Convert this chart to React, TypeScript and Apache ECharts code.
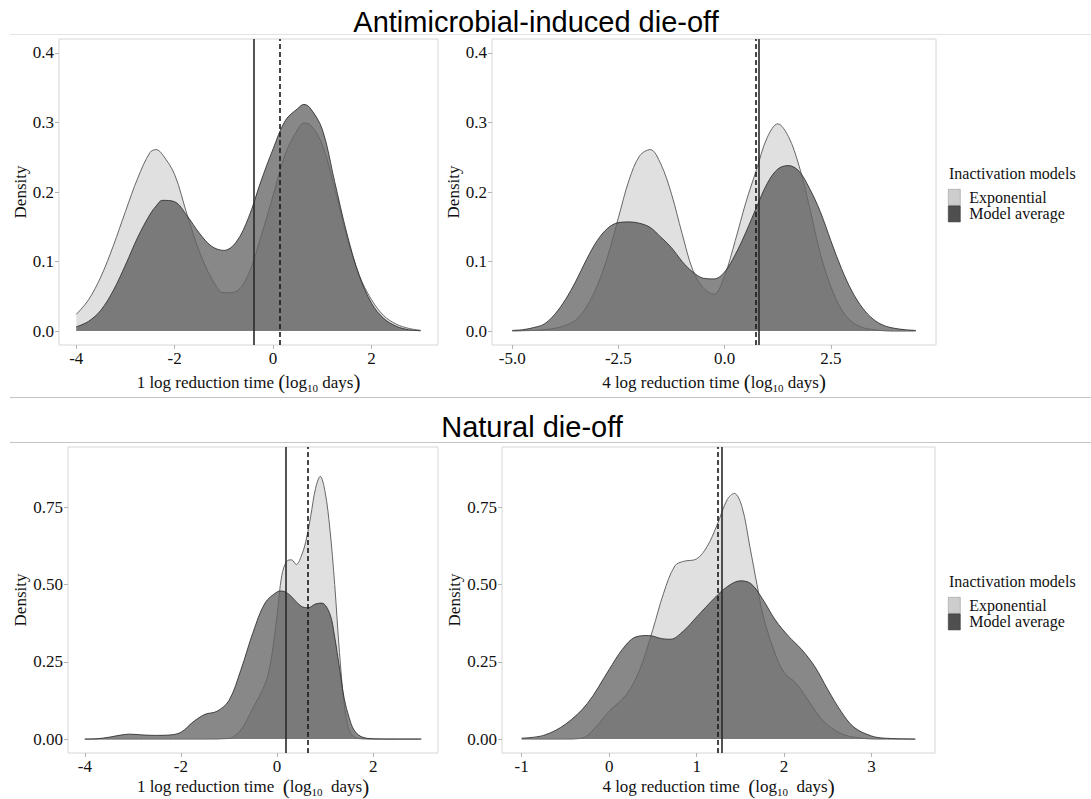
import React, { useEffect, useRef } from "react";
import * as echarts from "echarts";

// ---------- data ----------
const legendNames = ["Exponential", "Model average"];

// Top-left: 1 log reduction time, antimicrobial-induced
const tlX = [-4, -3.75, -3.5, -3.25, -3, -2.75, -2.5, -2.375, -2.25, -2, -1.75, -1.5, -1.25, -1, -0.75, -0.5, -0.25, 0, 0.25, 0.5, 0.625, 0.75, 1, 1.25, 1.5, 1.75, 2, 2.25, 2.5, 2.75, 3];
const tlExp = [0.024, 0.045, 0.078, 0.122, 0.172, 0.22, 0.257, 0.261, 0.254, 0.225, 0.168, 0.115, 0.076, 0.055, 0.057, 0.082, 0.135, 0.195, 0.255, 0.29, 0.299, 0.297, 0.268, 0.205, 0.135, 0.08, 0.045, 0.022, 0.01, 0.004, 0.001];
const tlAvg = [0.006, 0.014, 0.03, 0.058, 0.095, 0.135, 0.168, 0.18, 0.188, 0.186, 0.166, 0.141, 0.122, 0.116, 0.128, 0.163, 0.215, 0.262, 0.303, 0.32, 0.326, 0.321, 0.29, 0.215, 0.14, 0.08, 0.04, 0.018, 0.007, 0.002, 0.0005];

// Top-right: 4 log reduction time, antimicrobial-induced
const trX = [-5, -4.75, -4.5, -4.25, -4, -3.75, -3.5, -3.25, -3, -2.75, -2.5, -2.25, -2, -1.75, -1.5, -1.25, -1, -0.75, -0.5, -0.25, 0, 0.25, 0.5, 0.75, 1, 1.25, 1.5, 1.75, 2, 2.25, 2.5, 2.75, 3, 3.25, 3.5, 3.75, 4, 4.25, 4.5];
const trExp = [0, 0.0005, 0.001, 0.002, 0.004, 0.008, 0.016, 0.035, 0.065, 0.108, 0.163, 0.217, 0.252, 0.261, 0.24, 0.197, 0.14, 0.088, 0.062, 0.053, 0.08, 0.13, 0.185, 0.232, 0.278, 0.298, 0.28, 0.238, 0.178, 0.112, 0.064, 0.031, 0.013, 0.005, 0.002, 0.0005, 0, 0, 0];
const trAvg = [0.001, 0.002, 0.005, 0.01, 0.024, 0.045, 0.072, 0.103, 0.13, 0.148, 0.156, 0.157, 0.155, 0.149, 0.135, 0.12, 0.1, 0.085, 0.076, 0.075, 0.085, 0.11, 0.142, 0.178, 0.212, 0.233, 0.238, 0.23, 0.205, 0.172, 0.13, 0.09, 0.057, 0.033, 0.017, 0.008, 0.004, 0.002, 0.001];

// Bottom-left: 1 log reduction time, natural
const blExpX = [-4, -1.5, -1, -0.9, -0.75, -0.6, -0.45, -0.3, -0.2, -0.1, 0, 0.1, 0.2, 0.3, 0.4, 0.5, 0.6, 0.7, 0.8, 0.9, 1, 1.1, 1.2, 1.3, 1.4, 1.5, 1.6, 1.75, 2, 3];
const blExp = [0, 0, 0.002, 0.008, 0.03, 0.07, 0.115, 0.16, 0.2, 0.28, 0.4, 0.53, 0.575, 0.58, 0.565, 0.59, 0.64, 0.72, 0.81, 0.85, 0.8, 0.68, 0.5, 0.28, 0.11, 0.03, 0.008, 0.001, 0, 0];
const blAvgX = [-4, -3.75, -3.5, -3.25, -3.07, -2.75, -2.5, -2.25, -2, -1.75, -1.5, -1.25, -1, -0.75, -0.5, -0.25, 0, 0.1, 0.25, 0.5, 0.65, 0.8, 0.93, 1.1, 1.2, 1.3, 1.4, 1.5, 1.6, 1.75, 2, 2.5, 3];
const blAvg = [0, 0.001, 0.006, 0.013, 0.016, 0.013, 0.012, 0.013, 0.022, 0.055, 0.08, 0.09, 0.125, 0.225, 0.345, 0.44, 0.476, 0.479, 0.468, 0.43, 0.425, 0.437, 0.44, 0.405, 0.33, 0.23, 0.13, 0.07, 0.03, 0.008, 0.001, 0, 0];

// Bottom-right: 4 log reduction time, natural
const brExpX = [-1, -0.5, -0.3, -0.15, 0, 0.2, 0.35, 0.5, 0.62, 0.75, 0.85, 1, 1.12, 1.23, 1.35, 1.43, 1.52, 1.61, 1.69, 1.76, 1.88, 2, 2.14, 2.3, 2.45, 2.65, 2.85, 3.13, 3.5];
const brExp = [0, 0, 0.004, 0.04, 0.09, 0.145, 0.225, 0.355, 0.47, 0.56, 0.575, 0.583, 0.623, 0.69, 0.775, 0.795, 0.75, 0.62, 0.5, 0.4, 0.29, 0.215, 0.18, 0.115, 0.058, 0.018, 0.004, 0, 0];
const brAvgX = [-1, -0.75, -0.5, -0.25, 0, 0.15, 0.3, 0.45, 0.6, 0.7, 0.85, 1, 1.2, 1.35, 1.5, 1.62, 1.75, 1.9, 2.05, 2.2, 2.35, 2.5, 2.65, 2.8, 3, 3.15, 3.5];
const brAvg = [0.003, 0.012, 0.048, 0.115, 0.225, 0.29, 0.33, 0.335, 0.325, 0.323, 0.35, 0.395, 0.455, 0.493, 0.512, 0.503, 0.455, 0.385, 0.333, 0.29, 0.235, 0.16, 0.09, 0.038, 0.01, 0.003, 0];

// vertical reference lines per panel (TL, TR, BL, BR)
const solidLines = [-0.4, 0.81, 0.19, 1.29];
const dashedLines = [0.13, 0.73, 0.64, 1.24];

// axis ticks
const xTicksTL = [-4, -2, 0, 2];
const xTicksTR = [-5, -2.5, 0, 2.5];
const xTicksBL = [-4, -2, 0, 2];
const xTicksBR = [-1, 0, 1, 2, 3];
const yTicksTop = [0, 0.1, 0.2, 0.3, 0.4];
const yTicksBottom = [0, 0.25, 0.5, 0.75];

const titles = ["Antimicrobial-induced die-off", "Natural die-off"];
const xNamesTop = ["1 log reduction time {p|(}log{s|10} days{p|)}", "4 log reduction time {p|(}log{s|10} days{p|)}"];
const xNamesBottom = ["1 log reduction time  {p|(}log{s|10}  days{p|)}", "4 log reduction time  {p|(}log{s|10}  days{p|)}"];
const legendTitle = "Inactivation models";

// ---------- styling ----------
const SERIF = "Liberation Serif";
const SANS = "Liberation Sans";
const TXT = "#111111";

const pair = (xs: number[], ys: number[]) => xs.map((x, i) => [x, ys[i]]);

const panels = [
  { grid: { left: 59, top: 39, width: 379, height: 306 }, xMin: -4.35, xMax: 3.35, xTicks: xTicksTL, xFmt: (v: number) => String(v), yMin: -0.02, yMax: 0.42, yTicks: yTicksTop, yFmt: (v: number) => v.toFixed(1), exp: pair(tlX, tlExp), avg: pair(tlX, tlAvg), xName: xNamesTop[0], xGap: 26, yGap: 28 },
  { grid: { left: 492, top: 39, width: 444, height: 306 }, xMin: -5.475, xMax: 4.975, xTicks: xTicksTR, xFmt: (v: number) => v.toFixed(1), yMin: -0.02, yMax: 0.42, yTicks: yTicksTop, yFmt: (v: number) => v.toFixed(1), exp: pair(trX, trExp), avg: pair(trX, trAvg), xName: xNamesTop[1], xGap: 26, yGap: 27 },
  { grid: { left: 68, top: 447, width: 370, height: 306 }, xMin: -4.35, xMax: 3.35, xTicks: xTicksBL, xFmt: (v: number) => String(v), yMin: -0.045, yMax: 0.945, yTicks: yTicksBottom, yFmt: (v: number) => v.toFixed(2), exp: pair(blExpX, blExp), avg: pair(blAvgX, blAvg), xName: xNamesBottom[0], xGap: 21, yGap: 38 },
  { grid: { left: 502, top: 447, width: 433, height: 306 }, xMin: -1.225, xMax: 3.725, xTicks: xTicksBR, xFmt: (v: number) => String(v), yMin: -0.045, yMax: 0.945, yTicks: yTicksBottom, yFmt: (v: number) => v.toFixed(2), exp: pair(brExpX, brExp), avg: pair(brAvgX, brAvg), xName: xNamesBottom[1], xGap: 21, yGap: 39 },
];

function buildOption() {
  const grid = panels.map((p) => ({ ...p.grid, show: true, borderColor: "#d6d6d6", borderWidth: 1, backgroundColor: "transparent", containLabel: false }));
  const xAxis = panels.map((p, i) => ({
    type: "value",
    gridIndex: i,
    position: "bottom",
    min: p.xMin,
    max: p.xMax,
    axisLine: { show: false, onZero: false },
    splitLine: { show: false },
    axisTick: { show: true, length: 4, lineStyle: { color: "#b3b3b3" }, customValues: p.xTicks },
    axisLabel: { customValues: p.xTicks, formatter: p.xFmt, fontFamily: SERIF, fontSize: 17, color: TXT, margin: 5 },
    name: p.xName,
    nameLocation: "middle",
    nameGap: p.xGap,
    nameTextStyle: {
      fontFamily: SERIF,
      fontSize: 17,
      color: TXT,
      lineHeight: 22,
      rich: {
        p: { fontFamily: SERIF, fontSize: 21, color: TXT, lineHeight: 22 },
        s: { fontFamily: SERIF, fontSize: 11, color: TXT, lineHeight: 22, verticalAlign: "bottom" },
      },
    },
  }));
  const yAxis = panels.map((p, i) => ({
    type: "value",
    gridIndex: i,
    position: "left",
    min: p.yMin,
    max: p.yMax,
    axisLine: { show: false, onZero: false },
    splitLine: { show: false },
    axisTick: { show: true, length: 4, lineStyle: { color: "#b3b3b3" }, customValues: p.yTicks },
    axisLabel: { customValues: p.yTicks, formatter: p.yFmt, fontFamily: SERIF, fontSize: 17, color: TXT, margin: 5 },
    name: "Density",
    nameLocation: "middle",
    nameRotate: 90,
    nameGap: p.yGap,
    nameTextStyle: { fontFamily: SERIF, fontSize: 17, color: TXT },
  }));
  const series: any[] = [];
  panels.forEach((p, i) => {
    series.push({
      type: "line",
      name: legendNames[0],
      xAxisIndex: i,
      yAxisIndex: i,
      data: p.exp,
      smooth: 0.35,
      showSymbol: false,
      symbol: "none",
      lineStyle: { color: "#666666", width: 1 },
      itemStyle: { color: "#cccccc" },
      areaStyle: { color: "#e0e0e0", opacity: 1 },
      silent: true,
    });
    series.push({
      type: "line",
      name: legendNames[1],
      xAxisIndex: i,
      yAxisIndex: i,
      data: p.avg,
      smooth: 0.35,
      showSymbol: false,
      symbol: "none",
      lineStyle: { color: "rgba(45,45,45,0.85)", width: 1 },
      itemStyle: { color: "#4f4f4f" },
      areaStyle: { color: "rgba(38,38,38,0.55)", opacity: 1 },
      silent: true,
      markLine: {
        silent: true,
        symbol: "none",
        label: { show: false },
        animation: false,
        data: [
          { xAxis: solidLines[i], lineStyle: { type: "solid", color: "#2a2a2a", width: 1.6 } },
          { xAxis: dashedLines[i], lineStyle: { type: [5, 3], color: "#1a1a1a", width: 1.6 } },
        ],
      },
    });
  });

  const legendData = [
    { name: legendNames[0], itemStyle: { color: "#cdcdcd", borderColor: "#9a9a9a", borderWidth: 0.6 } },
    { name: legendNames[1], itemStyle: { color: "#4f4f4f", borderColor: "#333333", borderWidth: 0.6 } },
  ];
  const legendBase = {
    orient: "vertical",
    left: 948,
    itemWidth: 12,
    itemHeight: 16,
    itemGap: 0,
    padding: 0,
    icon: "rect",
    selectedMode: false,
    data: legendData,
    textStyle: { fontFamily: SERIF, fontSize: 16, color: TXT, padding: [0, 0, 0, 4], lineHeight: 16 },
  };

  const graphic = [
    { type: "line", shape: { x1: 10, y1: 34.5, x2: 1091, y2: 34.5 }, style: { stroke: "#e4e4e4", lineWidth: 1 }, silent: true },
    { type: "line", shape: { x1: 10, y1: 397.5, x2: 1091, y2: 397.5 }, style: { stroke: "#c4c4c4", lineWidth: 1 }, silent: true },
    { type: "line", shape: { x1: 10, y1: 442.5, x2: 1091, y2: 442.5 }, style: { stroke: "#c4c4c4", lineWidth: 1 }, silent: true },
    { type: "text", x: 536, y: 22, silent: true, style: { text: titles[0], font: `29px ${SANS}`, fill: "#000", align: "center", verticalAlign: "middle" } },
    { type: "text", x: 532, y: 427, silent: true, style: { text: titles[1], font: `29px ${SANS}`, fill: "#000", align: "center", verticalAlign: "middle" } },
    { type: "text", x: 949, y: 173, silent: true, style: { text: legendTitle, font: `16px ${SERIF}`, fill: TXT, align: "left", verticalAlign: "middle" } },
    { type: "text", x: 949, y: 581, silent: true, style: { text: legendTitle, font: `16px ${SERIF}`, fill: TXT, align: "left", verticalAlign: "middle" } },
  ];

  return {
    animation: false,
    backgroundColor: "#ffffff",
    grid,
    xAxis,
    yAxis,
    series,
    legend: [
      { ...legendBase, top: 189 },
      { ...legendBase, top: 597 },
    ],
    graphic,
  };
}

export default function App() {
  const ref = useRef<HTMLDivElement>(null);
  useEffect(() => {
    if (!ref.current) return;
    const chart = echarts.init(ref.current, null, { renderer: "svg" });
    chart.setOption(buildOption() as any);
    return () => chart.dispose();
  }, []);
  return <div ref={ref} style={{ position: "absolute", left: 0, top: 0, width: 1091, height: 799 }} />;
}
